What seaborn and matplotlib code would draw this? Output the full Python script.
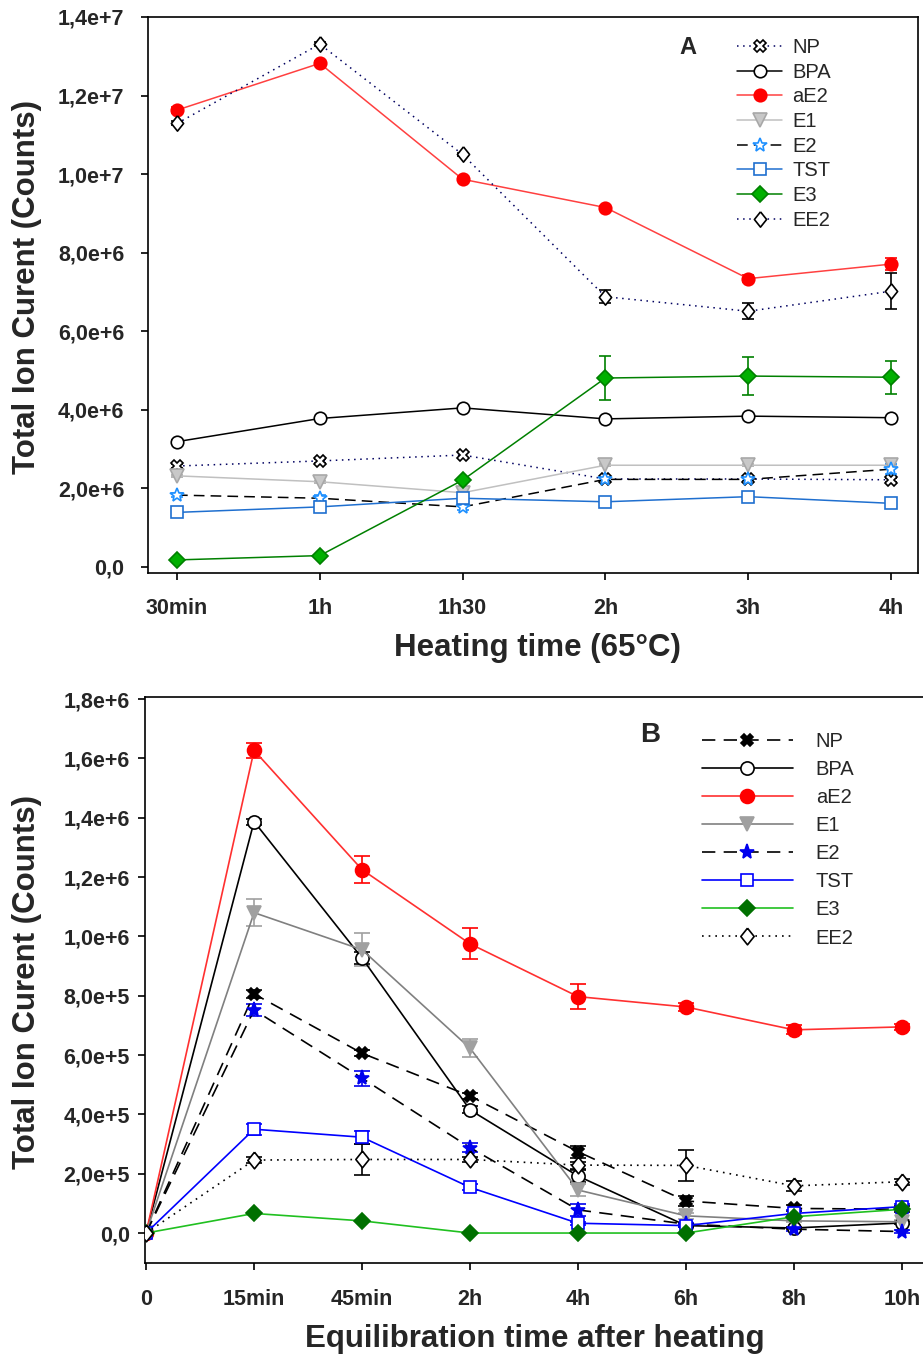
import numpy as np
import pandas as pd
import matplotlib
matplotlib.use('Agg')
import matplotlib.pyplot as plt
import seaborn as sns

# Panel A : heating time at 65 C
a_time = ['30min', '1h', '1h30', '2h', '3h', '4h']
a_NP = [2.57e6, 2.70e6, 2.85e6, 2.24e6, 2.24e6, 2.22e6]
a_BPA = [3.19e6, 3.78e6, 4.05e6, 3.77e6, 3.84e6, 3.80e6]
a_aE2 = [11.63e6, 12.82e6, 9.87e6, 9.15e6, 7.34e6, 7.71e6]
a_E1 = [2.32e6, 2.17e6, 1.89e6, 2.59e6, 2.59e6, 2.59e6]
a_E2 = [1.83e6, 1.75e6, 1.53e6, 2.23e6, 2.23e6, 2.49e6]
a_TST = [1.39e6, 1.53e6, 1.75e6, 1.66e6, 1.79e6, 1.62e6]
a_E3 = [0.18e6, 0.29e6, 2.21e6, 4.81e6, 4.86e6, 4.83e6]
a_EE2 = [11.29e6, 13.31e6, 10.50e6, 6.88e6, 6.51e6, 7.02e6]

a_NP_err = [0.05e6, 0.05e6, 0.08e6, 0.05e6, 0.05e6, 0.05e6]
a_BPA_err = [0.03e6, 0.03e6, 0.03e6, 0.03e6, 0.03e6, 0.03e6]
a_aE2_err = [0.08e6, 0.05e6, 0.05e6, 0.05e6, 0.08e6, 0.15e6]
a_E1_err = [0.03e6, 0.03e6, 0.03e6, 0.03e6, 0.03e6, 0.03e6]
a_E2_err = [0.05e6, 0.08e6, 0.08e6, 0.05e6, 0.05e6, 0.12e6]
a_TST_err = [0.05e6, 0.05e6, 0.05e6, 0.05e6, 0.05e6, 0.05e6]
a_E3_err = [0.05e6, 0.05e6, 0.05e6, 0.56e6, 0.48e6, 0.42e6]
a_EE2_err = [0.05e6, 0.05e6, 0.05e6, 0.17e6, 0.21e6, 0.46e6]

# Panel B : equilibration time after heating
b_time = ['0', '15min', '45min', '2h', '4h', '6h', '8h', '10h']
b_NP = [0, 0.806e6, 0.606e6, 0.462e6, 0.274e6, 0.108e6, 0.083e6, 0.080e6]
b_BPA = [0, 1.387e6, 0.927e6, 0.415e6, 0.192e6, 0.025e6, 0.017e6, 0.034e6]
b_aE2 = [0, 1.627e6, 1.225e6, 0.975e6, 0.797e6, 0.762e6, 0.685e6, 0.695e6]
b_E1 = [0, 1.080e6, 0.955e6, 0.623e6, 0.145e6, 0.058e6, 0.041e6, 0.038e6]
b_E2 = [0, 0.752e6, 0.522e6, 0.288e6, 0.078e6, 0.030e6, 0.013e6, 0.005e6]
b_TST = [0, 0.350e6, 0.323e6, 0.154e6, 0.033e6, 0.025e6, 0.066e6, 0.089e6]
b_E3 = [0, 0.066e6, 0.041e6, 0, 0, 0, 0.055e6, 0.080e6]
b_EE2 = [0, 0.246e6, 0.248e6, 0.248e6, 0.229e6, 0.228e6, 0.159e6, 0.173e6]

b_NP_err = [0, 0.012e6, 0.010e6, 0.010e6, 0.020e6, 0.018e6, 0.010e6, 0.010e6]
b_BPA_err = [0, 0.010e6, 0.020e6, 0.012e6, 0.020e6, 0.005e6, 0.005e6, 0.005e6]
b_aE2_err = [0, 0.026e6, 0.045e6, 0.052e6, 0.042e6, 0.015e6, 0.015e6, 0.010e6]
b_E1_err = [0, 0.045e6, 0.055e6, 0.030e6, 0.020e6, 0.010e6, 0.005e6, 0.005e6]
b_E2_err = [0, 0.020e6, 0.025e6, 0.015e6, 0.020e6, 0.005e6, 0.005e6, 0.005e6]
b_TST_err = [0, 0.018e6, 0.022e6, 0.010e6, 0.005e6, 0.005e6, 0.010e6, 0.010e6]
b_E3_err = [0, 0, 0, 0, 0, 0, 0, 0]
b_EE2_err = [0, 0.010e6, 0.053e6, 0.010e6, 0.012e6, 0.053e6, 0.016e6, 0.010e6]

names = ['NP', 'BPA', 'aE2', 'E1', 'E2', 'TST', 'E3', 'EE2']

sns.set_style('ticks')
plt.rcParams['font.family'] = ['Liberation Sans', 'DejaVu Sans']

# a slightly squat open diamond, like the SigmaPlot one
diamond = [(0, 1), (0.8, 0), (0, -1), (-0.8, 0), (0, 1)]

# line colour, linestyle, marker, marker size, face, edge
style_a = {
    'NP':  ('#000060', (0, (1, 3)), 'X', 9, 'white', 'black'),
    'BPA': ('black', '-', 'o', 9, 'white', 'black'),
    'aE2': ('#ff4040', '-', 'o', 9, 'red', 'red'),
    'E1':  ('#c0c0c0', '-', 'v', 9.5, '#c8c8c8', '#a8a8a8'),
    'E2':  ('black', (0, (7, 4)), '*', 10, 'white', '#1e90ff'),
    'TST': ('#1f6fcf', '-', 's', 8.5, 'white', '#1f6fcf'),
    'E3':  ('#008000', '-', 'D', 8, '#00b000', '#008000'),
    'EE2': ('#000060', (0, (1, 3)), diamond, 11, 'white', 'black'),
}
style_b = {
    'NP':  ('black', (0, (8, 5)), 'X', 9, 'black', 'black'),
    'BPA': ('black', '-', 'o', 9.5, 'white', 'black'),
    'aE2': ('#ff3030', '-', 'o', 10, 'red', 'red'),
    'E1':  ('#808080', '-', 'v', 10, '#a0a0a0', '#a0a0a0'),
    'E2':  ('black', (0, (8, 5)), '*', 11, '#0000ee', '#0000ee'),
    'TST': ('#0000ff', '-', 's', 9, 'white', '#0000ff'),
    'E3':  ('#20c020', '-', 'D', 8.5, '#007000', '#007000'),
    'EE2': ('black', (0, (1, 3)), diamond, 12, 'white', 'black'),
}


def sci_comma(v):
    if v == 0:
        return '0,0'
    e = int(np.floor(np.log10(abs(v)) + 1e-9))
    return f'{v / 10 ** e:.1f}e+{e}'.replace('.', ',')


def draw_panel(ax, times, series, errors, styles, lw, cap):
    x = np.arange(len(times))
    for name in names:
        lc, ls, m, ms, mfc, mec = styles[name]
        ax.errorbar(x, series[name], yerr=errors[name], fmt='none', ecolor=mec if mec != 'white' else lc,
                    elinewidth=1.2, capsize=cap, capthick=1.2, zorder=2, label='_nolegend_')
        sns.lineplot(x=x, y=series[name], ax=ax, label=name, color=lc, linestyle=ls, lw=lw,
                     marker=m, markersize=ms, markerfacecolor=mfc, markeredgecolor=mec,
                     markeredgewidth=1.2, zorder=3)
    ax.set_xticks(x, labels=times, fontweight='bold', fontsize=15.5)
    for s in ax.spines.values():
        s.set_visible(True)
        s.set_linewidth(1.2)
        s.set_color('black')
    ax.tick_params(direction='out', length=5, width=1.2, color='black')


fig = plt.figure(figsize=(9.23, 13.58), dpi=100)
W, H = 923, 1358

# ---- Panel A
axA = fig.add_axes([148 / W, 1 - 573 / H, 770 / W, 556 / H])
draw_panel(axA, a_time,
           dict(zip(names, [a_NP, a_BPA, a_aE2, a_E1, a_E2, a_TST, a_E3, a_EE2])),
           dict(zip(names, [a_NP_err, a_BPA_err, a_aE2_err, a_E1_err, a_E2_err, a_TST_err, a_E3_err, a_EE2_err])),
           style_a, 1.1, 4.5)
a_yticks = [0, 2e6, 4e6, 6e6, 8e6, 1e7, 1.2e7, 1.4e7]
axA.set_yticks(a_yticks, labels=[sci_comma(v) for v in a_yticks], fontweight='bold', fontsize=15.5)
axA.set_ylim(-0.153e6, 1.4e7)
axA.set_xlim(-0.203, 5.189)
axA.tick_params(axis='x', pad=13)
axA.tick_params(axis='y', pad=12)
axA.set_xlabel('Heating time (65°C)', fontsize=22.5, fontweight='bold')
axA.set_ylabel('Total Ion Curent (Counts)', fontsize=22.5, fontweight='bold')
axA.xaxis.set_label_coords(0.506, -0.135)
axA.xaxis.label.set_va('center')
axA.yaxis.set_label_coords(-0.157, 0.514)
axA.yaxis.label.set_va('center')
axA.text(0.701, 0.946, 'A', transform=axA.transAxes, fontsize=17, fontweight='bold',
         ha='center', va='center')
axA.legend(loc='upper left', bbox_to_anchor=(0.765, 0.962), frameon=False, fontsize=14.5,
           handlelength=2.25, handletextpad=0.5, labelspacing=0.28, borderpad=0, borderaxespad=0)

# ---- Panel B
axB = fig.add_axes([145 / W, 1 - 1262.7 / H, 780 / W, 565.7 / H])
draw_panel(axB, b_time,
           dict(zip(names, [b_NP, b_BPA, b_aE2, b_E1, b_E2, b_TST, b_E3, b_EE2])),
           dict(zip(names, [b_NP_err, b_BPA_err, b_aE2_err, b_E1_err, b_E2_err, b_TST_err, b_E3_err, b_EE2_err])),
           style_b, 1.2, 6)
b_yticks = [0, 2e5, 4e5, 6e5, 8e5, 1e6, 1.2e6, 1.4e6, 1.6e6, 1.8e6]
axB.set_yticks(b_yticks, labels=[sci_comma(v) for v in b_yticks], fontweight='bold', fontsize=15.5)
axB.set_ylim(-1e5, 1.807e6)
axB.set_xlim(-0.01, 7.213)
axB.tick_params(axis='x', pad=14)
axB.tick_params(axis='y', pad=6)
axB.set_xlabel('Equilibration time after heating', fontsize=22.5, fontweight='bold')
axB.set_ylabel('Total Ion Curent (Counts)', fontsize=22.5, fontweight='bold')
axB.xaxis.set_label_coords(0.5, -0.135)
axB.xaxis.label.set_va('center')
axB.yaxis.set_label_coords(-0.151, 0.496)
axB.yaxis.label.set_va('center')
axB.text(0.647, 0.933, 'B', transform=axB.transAxes, fontsize=20, fontweight='bold',
         ha='center', va='center')
axB.legend(loc='upper left', bbox_to_anchor=(0.714, 0.938), frameon=False, fontsize=14.5,
           handlelength=4.5, handletextpad=1.15, labelspacing=0.45, borderpad=0, borderaxespad=0)

fig.savefig('out.png', dpi=100)
